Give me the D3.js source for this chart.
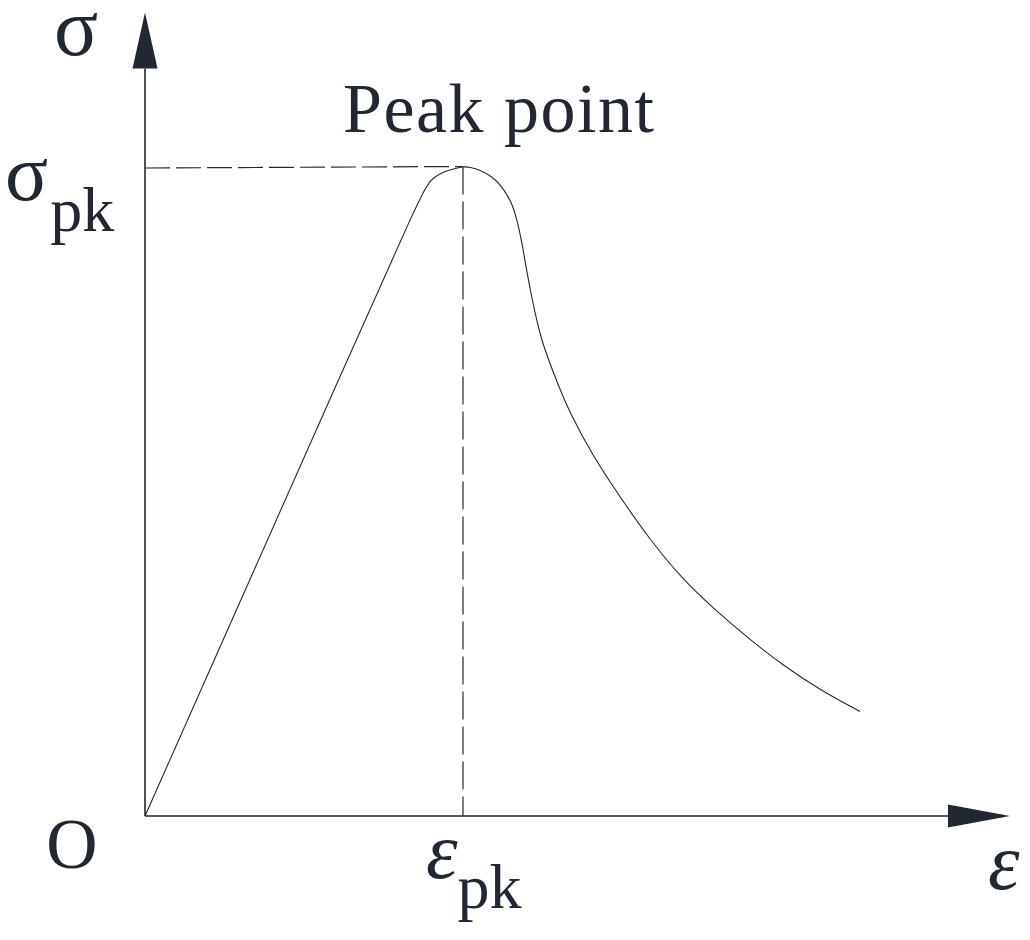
<!DOCTYPE html>
<html>
<head>
<meta charset="utf-8">
<script src="https://cdn.jsdelivr.net/npm/d3@7"></script>
<style>
  html, body { margin: 0; padding: 0; background: #fff; }
</style>
</head>
<body>
<div id="chart"></div>
<script>
// normalised strain (eps / eps_pk) and stress (sigma / sigma_pk)
const strain = [0, 0.3, 0.6, 0.875, 0.902, 0.938, 0.975, 1.0, 1.022, 1.053, 1.090, 1.122, 1.153, 1.169, 1.185, 1.200, 1.216, 1.232,
  1.247, 1.289, 1.336, 1.410, 1.494, 1.588, 1.693, 1.787, 1.903, 2.007, 2.123, 2.248];
const stress = [0, 0.331, 0.662, 0.966, 0.981, 0.992, 0.997, 1.0, 0.999, 0.995, 0.985, 0.970, 0.945, 0.920, 0.884, 0.840, 0.799, 0.763,
  0.732, 0.676, 0.620, 0.553, 0.491, 0.425, 0.363, 0.320, 0.271, 0.232, 0.194, 0.161];
const peak = { e: 1, s: 1 };
const axisEnd = { e: 2.525, eTip: 2.72, s: 1.151, sTip: 1.237 };

const W = 1030, H = 940, ink = '#212831';
const FONT = '"Liberation Serif", serif';
const svg = d3.select('#chart').append('svg').attr('width', W).attr('height', H);

const x = d3.scaleLinear().domain([0, 1]).range([145, 463]);
const y = d3.scaleLinear().domain([0, 1]).range([816, 166.5]);

// axes with arrow heads
svg.append('line').attr('x1', x(0)).attr('y1', y(0)).attr('x2', x(axisEnd.e)).attr('y2', y(0))
  .attr('stroke', ink).attr('stroke-width', 1.6);
svg.append('line').attr('x1', x(0)).attr('y1', y(0)).attr('x2', x(0)).attr('y2', y(axisEnd.s))
  .attr('stroke', ink).attr('stroke-width', 1.6);
svg.append('path')
  .attr('d', `M${x(axisEnd.eTip)},${y(0)} L${x(axisEnd.e)},${y(0) - 11.5} L${x(axisEnd.e)},${y(0) + 11.5} Z`)
  .attr('fill', ink);
svg.append('path')
  .attr('d', `M${x(0)},${y(axisEnd.sTip)} L${x(0) - 12.5},${y(axisEnd.s)} L${x(0) + 12.5},${y(axisEnd.s)} Z`)
  .attr('fill', ink);

// dashed guides to the peak
svg.append('line').attr('x1', x(0)).attr('y1', y(peak.s) + 1.5).attr('x2', x(peak.e)).attr('y2', y(peak.s))
  .attr('stroke', ink).attr('stroke-width', 1.2).attr('stroke-dasharray', '25,6');
svg.append('line').attr('x1', x(peak.e)).attr('y1', y(peak.s)).attr('x2', x(peak.e)).attr('y2', y(0))
  .attr('stroke', ink).attr('stroke-width', 1.2).attr('stroke-dasharray', '28,7');

// stress-strain curve
const pts = strain.map((e, i) => [e, stress[i]]);
svg.append('path').datum(pts)
  .attr('d', d3.line().x(d => x(d[0])).y(d => y(d[1])).curve(d3.curveBasis))
  .attr('fill', 'none').attr('stroke', ink).attr('stroke-width', 1.1);

// labels
const txt = (xx, yy, size) => svg.append('text').attr('x', xx).attr('y', yy)
  .attr('font-size', size).attr('font-family', FONT).attr('fill', ink);

txt(76, 55, 82).attr('text-anchor', 'middle').text('σ');

const spk = txt(5, y(peak.s) + 33, 80);
spk.append('tspan').text('σ');
spk.append('tspan').attr('dy', 31).attr('dx', 2).attr('font-size', 64).text('pk');

txt(343, 132, 70).attr('letter-spacing', 1.5).text('Peak point');

txt(72, 868, 71).attr('text-anchor', 'middle').text('O');

const epk = txt(x(peak.e) - 37, 878, 80);
epk.append('tspan').attr('font-style', 'italic').text('ε');
epk.append('tspan').attr('dy', 30).attr('font-size', 64).text('pk');

txt(988, 889, 80).attr('font-style', 'italic').text('ε');
</script>
</body>
</html>
